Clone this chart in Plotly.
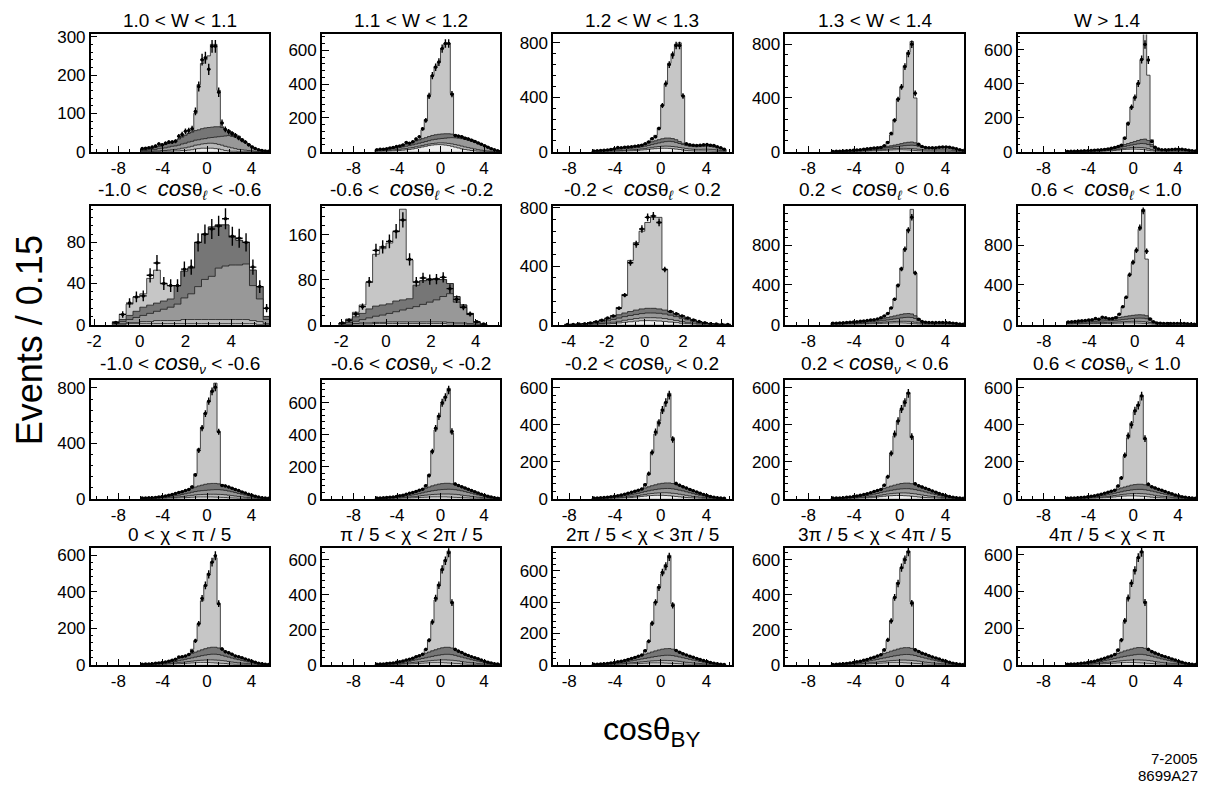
import numpy as np
import plotly.graph_objects as go

FIG_W, FIG_H = 1211, 796
BIN = 0.3  # histogram bin width in cos(theta_BY)

# ---------------------------------------------------------------------------
# Histogram contents.  *_X0 is the lower edge of the first bin of the
# background/data arrays, *_SX0 the lower edge of the first signal bin.
# B1..B4 are the stacked background components (bottom to top), SIG the
# signal component drawn on top of them, DATA the measured counts.
# ---------------------------------------------------------------------------

# ---- 1.0 < W < 1.1
W1_X0 = -6.0
W1_B1 = [0,0,0,0,0,0,1,1,1,1, 2,2,3,3,4,5,7,8,9,9, 9,9,8,7,5,3,2,1,1,0, 0,0,0,0,0,0,0,0,0]
W1_B2 = [1,1,1,1,2,2,2,2,3,4, 4,5,6,7,8,9,10,10,11,12, 13,13,13,12,12,11,10,9,7,6, 5,4,3,2,1,0,0,0,0]
W1_B3 = [2,2,3,4,4,6,6,7,8,9, 9,10,11,12,13,13,13,13,13,13, 14,15,17,20,23,27,30,30,30,28, 25,20,15,11,7,5,3,1,1]
W1_B4 = [2,3,3,4,5,6,7,9,10,11, 13,16,18,21,23,24,25,26,27,28, 27,27,27,26,23,17,13,10,7,6, 3,2,2,1,0,0,0,0,0]
W1_SX0 = -1.2
W1_SIG = [45,118,170,178,187,216,215,95,2]
W1_DATA = [8,9,10,12,15,20,18,22,25,25, 27,40,45,53,55,60,105,170,240,245, 215,275,275,155,75,58,52,47,42,36, 30,25,18,12,8,5,3,2,1]

# ---- 1.1 < W < 1.2
W2_X0 = -6.0
W2_B1 = [2,2,3,3,4,5,6,7,9,11, 13,16,20,24,28,32,36,39,41,42, 41,39,36,32,27,22,17,13,10,7, 5,3,2,1,1,0,0,0,0]
W2_B2 = [2,3,3,4,4,5,6,7,8,8, 9,9,9,9,9,9,9,9,9,10, 11,12,13,14,15,16,16,15,14,13, 11,9,7,5,3,2,1,0,0]
W2_B3 = [4,4,5,6,7,8,9,10,11,13, 14,15,16,17,18,19,20,22,23,24, 26,29,33,37,40,42,44,45,44,42, 39,36,31,26,21,16,10,6,3]
W2_B4 = [4,4,4,5,6,7,8,10,12,13, 15,17,19,20,22,23,25,26,27,27, 27,26,24,21,18,15,13,11,10,9, 8,7,6,5,3,2,1,0,0]
W2_SX0 = -1.8
W2_SIG = [53,107,245,354,405,427,505,534,534,241]
W2_DATA = [12,14,15,18,22,25,30,34,40,55, 50,58,75,88,135,185,330,450,500,530, 610,640,640,340,95,92,88,80,75,68, 60,52,44,35,26,18,12,6,3]

# ---- 1.2 < W < 1.3
W3_X0 = -6.0
W3_B1 = [1,1,1,1,2,2,3,3,4,5, 6,7,8,10,12,14,17,20,22,24, 25,25,24,22,19,16,12,9,7,6, 5,5,5,5,4,3,2,1,1]
W3_B2 = [1,1,2,2,2,3,3,4,5,5, 6,7,8,8,9,10,11,12,13,14, 15,16,16,16,16,15,15,14,13,12, 12,12,13,13,13,12,10,7,4]
W3_B3 = [2,3,3,4,5,6,8,10,11,12, 12,12,12,13,14,16,18,20,23,26, 30,33,36,36,33,29,25,22,20,19, 19,20,21,22,21,19,16,12,8]
W3_B4 = [2,2,3,4,5,6,8,10,10,10, 10,11,12,13,15,17,19,21,22,24, 25,26,24,22,20,15,10,9,8,8, 8,9,9,10,10,10,8,7,5]
W3_SX0 = -1.2
W3_SIG = [10,27,40,87,245,400,550,624,702,725,348,6]
W3_DATA = [5,7,8,10,13,16,22,30,28,32, 35,37,40,43,48,58,72,95,110,170, 340,500,640,710,780,780,410,58,50,48, 45,47,50,52,48,45,36,28,18]

# ---- 1.3 < W < 1.4
W4_X0 = -6.0
W4_B1 = [0,0,0,1,1,1,1,2,2,3, 4,5,6,7,8,10,11,12,13,14, 14,13,12,11,9,7,5,4,3,3, 3,3,3,3,2,2,1,1,0]
W4_B2 = [1,1,1,1,1,2,2,2,3,3, 4,4,5,6,7,7,8,9,10,10, 11,12,12,12,12,11,10,9,9,9, 9,10,10,10,10,8,6,4,3]
W4_B3 = [1,1,2,1,2,2,3,4,5,6, 6,7,7,8,9,10,11,12,13,15, 17,20,23,25,25,22,17,14,13,13, 14,15,16,16,15,13,10,6,4]
W4_B4 = [1,1,1,2,2,3,4,4,5,6, 7,8,9,9,9,9,10,11,13,15, 18,21,23,24,20,10,6,5,4,4, 4,5,6,6,6,5,4,3,2]
W4_SX0 = -1.8
W4_SIG = [2,9,35,81,191,336,420,574,670,748,334]
W4_DATA = [2,3,4,5,6,8,10,12,15,18, 21,24,27,30,32,45,68,136,233,390, 482,633,730,800,434,55,38,32,30,29, 30,33,35,35,33,28,21,14,9]

# ---- W > 1.4
W5_X0 = -6.0
W5_B1 = [0,0,0,0,0,1,1,1,1,2, 2,3,4,5,7,9,11,13,14,15, 15,14,13,11,8,5,3,2,1,1, 1,1,1,1,1,1,0,0,0]
W5_B2 = [0,0,1,1,1,1,1,1,2,1, 2,2,3,4,4,5,6,7,8,9, 10,11,11,11,10,7,5,4,4,4, 4,4,5,5,5,4,4,3,2]
W5_B3 = [1,1,1,1,2,1,2,3,3,4, 4,5,5,6,7,8,10,11,13,15, 18,21,24,25,24,18,10,6,5,5, 5,6,6,7,6,5,4,2,1]
W5_B4 = [1,1,1,1,1,2,2,2,2,3, 4,4,5,5,6,7,8,11,13,15, 17,20,24,27,24,12,6,3,2,2, 2,2,2,2,2,2,1,1,1]
W5_SX0 = -1.2
W5_SIG = [5,43,122,206,260,334,468,646,384,28]
W5_DATA = [1,2,2,3,4,5,6,7,8,10, 11,13,16,20,25,30,38,79,165,261, 318,401,542,631,539,60,26,16,12,11, 12,13,14,15,14,12,9,6,4]

# ---- -1.0 < cos(theta_l) < -0.6
L1_X0 = -1.2
L1_B1 = [0,0,1,1,1,1,1,1,1,1, 1,1,1,1,1,1,1,1,1,1, 1,0,0]
L1_B2 = [1,1,1,1,2,2,3,3,3,3, 4,4,4,4,4,4,4,4,4,4, 3,3,1]
L1_B3 = [0,2,3,5,6,8,9,11,13,16, 21,25,32,39,42,50,52,53,53,54, 34,22,4]
L1_B4 = [1,2,4,6,8,8,8,8,8,18, 26,25,43,44,48,42,40,27,24,21, 15,12,3]
L1_SX0 = -1.2
L1_SIG = [1,5,11,14,13,26,32,17,13]
L1_DATA = [2,10,21,27,28,48,60,40,38,38, 54,56,80,88,93,96,103,86,84,80, 56,37,16]

# ---- -0.6 < cos(theta_l) < -0.2
L2_X0 = -2.1
L2_B1 = [0,0,1,1,1,2,2,2,2,2, 2,2,2,2,2,2,1,1,1,0, 0,0]
L2_B2 = [1,1,1,2,2,2,2,3,3,3, 3,3,3,3,3,3,3,2,2,2, 1,0]
L2_B3 = [1,3,4,6,9,11,13,15,18,21, 24,27,31,35,39,45,51,37,27,16, 3,1]
L2_B4 = [1,4,8,11,16,18,18,17,19,18, 17,38,42,41,37,30,18,10,5,2, 1,0]
L2_SX0 = -2.1
L2_SIG = [0,2,8,15,47,92,100,108,123,161,69,5]
L2_DATA = [3,8,19,32,76,132,138,148,166,186, 116,76,83,80,81,84,64,45,31,19, 5,1]

# ---- -0.2 < cos(theta_l) < 0.2
L3_X0 = -4.2
L3_B1 = [0,0,0,0,1,2,3,5,8,12, 16,20,24,27,28,27,25,22,18,14, 10,7,4,2,1,1,0,0,0]
L3_B2 = [0,0,1,1,2,3,5,7,9,11, 14,16,18,19,20,21,21,20,18,15, 12,9,7,5,3,1,1,1,0]
L3_B3 = [1,1,1,3,4,7,10,14,18,22, 25,27,28,30,32,32,32,31,29,26, 22,17,12,8,5,3,2,1,1]
L3_B4 = [0,1,2,3,5,8,12,16,20,23, 25,27,30,32,32,32,30,27,23,19, 16,12,9,6,4,2,1,0,0]
L3_SX0 = -1.8
L3_SIG = [7,50,127,350,462,532,588,623,627,278]
L3_DATA = [1,2,4,7,12,20,30,45,60,113, 202,424,551,655,735,744,700,378,90,74, 60,45,32,21,13,7,4,2,1]

# ---- 0.2 < cos(theta_l) < 0.6
L4_X0 = -6.0
L4_B1 = [2,2,3,3,4,4,5,5,6,7, 8,9,10,11,12,14,15,16,17,17, 17,16,14,12,9,6,4,3,2,2, 2,2,2,2,1,1,1,0,0]
L4_B2 = [3,3,3,4,4,5,5,6,6,7, 7,8,9,10,11,12,13,14,15,16, 17,18,19,18,16,12,9,7,7,6, 6,6,6,6,6,5,3,3,2]
L4_B3 = [4,5,5,5,6,7,8,9,10,10, 12,13,14,15,17,18,20,23,26,30, 34,38,41,42,37,22,13,10,9,9, 9,10,10,9,8,6,5,3,2]
L4_B4 = [5,5,6,7,7,8,9,10,11,13, 14,15,17,19,20,22,24,27,30,33, 36,38,38,36,28,12,6,5,4,4, 4,4,4,4,4,3,2,1,1]
L4_SX0 = -1.8
L4_SIG = [10,24,43,90,172,304,466,650,848,1052,430,8]
L4_DATA = [14,15,17,19,21,24,28,30,34,38, 41,46,50,56,70,88,112,168,255,395, 560,760,950,1080,520,55,32,25,22,21, 21,22,22,21,19,15,11,7,5]

# ---- 0.6 < cos(theta_l) < 1.0
L5_X0 = -6.0
L5_B1 = [5,5,6,6,7,8,9,10,10,11, 11,12,12,13,14,15,16,17,17,17, 16,15,13,11,8,5,3,2,1,1, 1,1,1,1,1,1,0,0,0]
L5_B2 = [5,6,6,7,7,7,8,8,9,9, 10,10,11,11,12,13,14,15,16,17, 18,18,18,17,14,10,7,5,5,4, 4,4,4,4,4,3,3,2,1]
L5_B3 = [8,8,9,9,10,11,12,13,14,15, 15,16,16,17,18,19,21,23,26,28, 31,33,34,32,23,11,6,5,4,5, 5,5,6,6,5,4,3,2,1]
L5_B4 = [10,11,11,13,14,15,16,17,19,20, 21,21,21,22,23,25,27,29,30,32, 33,34,33,30,15,6,3,2,2,2, 2,2,2,2,2,2,2,1,1]
L5_SX0 = -1.8
L5_SIG = [13,38,102,186,411,526,642,860,1062,570,5]
L5_DATA = [28,30,33,36,40,42,46,50,62,55, 74,70,60,62,70,105,180,275,502,627, 749,976,1146,739,58,30,18,14,12,12, 12,12,13,13,12,10,8,5,3]

# ---- -1.0 < cos(theta_v) < -0.6
V1_X0 = -6.0
V1_B1 = [0,0,1,1,1,1,2,2,3,3, 4,5,6,7,8,10,11,12,12,12, 12,12,11,10,9,8,6,5,4,3, 2,2,1,1,1,0,0,0,0]
V1_B2 = [1,1,1,1,1,2,2,3,4,5, 6,7,9,11,13,14,16,17,18,19, 20,20,21,21,21,20,19,17,15,13, 11,8,7,5,3,3,2,1,0]
V1_B3 = [1,2,2,2,3,4,5,6,7,9, 11,13,15,17,19,22,24,26,28,29, 30,32,33,34,33,32,30,28,25,22, 19,16,12,9,7,4,2,1,1]
V1_B4 = [2,2,2,3,4,5,6,8,10,13, 16,19,21,23,26,29,33,37,40,44, 46,46,45,42,37,32,29,26,23,20, 17,14,12,9,6,4,3,2,1]
V1_SX0 = -1.5
V1_SIG = [15,96,268,417,516,592,660,725,373]
V1_DATA = [4,5,6,7,9,12,15,19,24,30, 37,44,50,58,66,85,171,349,510,615, 705,776,805,484,95,92,84,76,66,58, 48,40,32,24,17,11,7,4,2]

# ---- -0.6 < cos(theta_v) < -0.2
V2_X0 = -6.0
V2_B1 = [0,0,1,1,1,1,2,2,3,3, 4,5,6,7,8,9,10,11,11,11, 11,11,10,9,8,7,6,5,4,3, 2,2,1,1,1,0,0,0,0]
V2_B2 = [1,1,1,1,1,2,2,3,3,5, 6,7,8,10,12,13,14,15,16,17, 18,18,19,19,19,18,16,14,13,11, 9,7,6,4,3,2,1,1,0]
V2_B3 = [1,1,1,2,3,3,4,5,7,8, 9,11,13,14,16,19,21,23,25,27, 28,29,30,30,29,28,27,25,22,20, 17,14,11,8,5,4,3,1,1]
V2_B4 = [2,2,2,3,4,5,6,8,9,11, 14,16,18,21,23,25,28,31,34,36, 37,38,37,35,32,28,25,23,20,17, 15,12,10,8,6,4,2,1,1]
V2_SX0 = -1.5
V2_SIG = [19,77,220,344,429,496,544,594,317]
V2_DATA = [4,4,5,7,9,11,14,18,22,27, 33,39,45,52,59,80,145,295,440,515, 600,635,680,420,92,82,74,67,59,51, 43,35,28,21,15,10,6,3,2]

# ---- -0.2 < cos(theta_v) < 0.2
V3_X0 = -6.0
V3_B1 = [0,0,1,1,1,1,2,2,3,4, 5,6,8,10,12,14,16,17,18,18, 18,17,16,14,12,10,8,6,5,4, 3,2,1,1,0,0,0,0,0]
V3_B2 = [1,1,0,1,1,2,2,3,3,4, 5,6,6,7,8,9,10,11,12,13, 14,15,15,15,15,14,13,12,10,8, 7,6,5,3,3,2,1,1,0]
V3_B3 = [1,1,2,2,3,3,4,5,6,7, 8,9,11,12,14,15,16,18,19,21, 22,23,24,24,23,22,21,19,17,15, 12,10,8,6,4,3,2,1,1]
V3_B4 = [1,2,2,2,3,4,5,6,8,9, 11,13,15,17,18,20,22,24,26,28, 29,30,30,29,27,25,22,20,18,16, 14,11,9,7,5,3,2,1,1]
V3_SX0 = -1.5
V3_SIG = [22,66,180,275,340,387,435,485,248,3]
V3_DATA = [3,4,5,6,8,10,13,16,20,24, 29,34,40,46,52,75,135,250,360,410, 480,520,560,320,82,72,64,57,50,43, 36,29,23,17,12,8,5,3,2]

# ---- 0.2 < cos(theta_v) < 0.6
V4_X0 = -6.0
V4_B1 = [0,0,0,1,1,1,2,2,3,3, 4,5,7,9,11,13,15,16,17,17, 17,16,15,13,11,9,7,6,5,4, 3,2,1,1,0,0,0,0,0]
V4_B2 = [1,1,1,1,1,2,1,2,2,4, 5,6,6,7,8,9,10,11,12,13, 14,15,15,15,15,14,13,11,9,8, 7,6,5,3,3,2,1,1,0]
V4_B3 = [1,1,2,1,2,2,4,5,6,7, 8,9,11,12,14,15,16,18,19,21, 22,23,24,24,23,22,21,19,17,14, 12,9,7,6,4,3,2,1,1]
V4_B4 = [1,1,1,2,3,4,4,5,7,8, 10,12,14,16,17,19,21,23,25,27, 29,30,30,29,27,25,22,20,18,16, 13,11,9,6,4,3,2,1,1]
V4_SX0 = -1.5
V4_SIG = [19,58,172,267,342,398,446,491,249,4]
V4_DATA = [3,3,4,5,7,9,11,14,18,22, 27,32,38,44,50,72,118,245,350,420, 485,520,570,335,80,70,63,56,49,42, 35,28,22,16,11,8,5,3,2]

# ---- 0.6 < cos(theta_v) < 1.0
V5_X0 = -6.0
V5_B1 = [0,0,0,1,1,1,1,2,2,3, 4,5,6,8,9,11,13,14,15,15, 15,14,13,12,10,8,6,5,4,3, 2,2,1,1,0,0,0,0,0]
V5_B2 = [1,1,1,0,1,1,2,2,3,3, 4,5,6,6,8,8,9,10,11,12, 13,14,14,14,14,13,12,10,9,8, 7,5,4,3,3,2,1,1,0]
V5_B3 = [0,1,1,2,2,3,3,4,5,6, 7,8,9,11,12,14,15,17,18,20, 21,22,23,22,21,20,19,17,15,13, 11,9,7,5,3,2,2,1,1]
V5_B4 = [1,1,2,2,2,3,4,5,6,8, 9,11,13,15,17,19,21,22,24,26, 27,28,28,27,25,23,21,19,17,14, 12,10,8,6,4,3,2,1,1]
V5_SX0 = -1.5
V5_SIG = [18,57,167,262,337,394,432,482,245,5]
V5_DATA = [2,3,4,5,6,8,10,13,16,20, 24,29,34,40,46,68,112,235,340,400, 475,505,555,325,78,64,58,51,45,38, 32,26,20,15,10,7,5,3,2]

# ---- 0 < chi < pi/5
C1_X0 = -6.0
C1_B1 = [0,0,0,1,1,1,2,2,3,4, 5,6,7,8,9,10,11,12,12,12, 12,11,10,9,8,7,5,4,3,3, 2,2,1,1,1,0,0,0,0]
C1_B2 = [1,1,1,1,1,2,2,3,3,4, 5,6,7,8,9,10,11,12,13,14, 15,16,16,16,15,14,13,11,10,8, 7,6,5,4,2,2,1,1,0]
C1_B3 = [1,1,2,2,3,3,4,5,6,7, 8,10,12,14,16,18,20,22,25,27, 29,31,32,31,29,26,24,22,19,17, 15,12,10,7,6,4,3,1,1]
C1_B4 = [1,2,2,2,3,4,5,6,8,10, 12,14,16,18,21,24,27,30,32,35, 37,38,38,36,32,27,23,20,18,16, 14,12,10,8,5,3,2,1,1]
C1_SX0 = -1.5
C1_SIG = [23,61,149,268,342,407,464,489,238]
C1_DATA = [3,4,5,6,8,10,13,16,20,25, 30,42,44,48,57,74,131,225,363,434, 494,561,596,334,86,72,66,58,48,44, 38,32,26,20,14,9,6,3,2]

# ---- pi/5 < chi < 2pi/5
C2_X0 = -6.0
C2_B1 = [0,0,1,1,1,1,2,2,3,4, 5,6,7,8,9,10,11,12,12,12, 12,11,10,9,8,7,5,4,3,3, 2,2,1,1,1,0,0,0,0]
C2_B2 = [1,1,0,1,1,2,2,3,4,5, 6,7,8,9,10,11,12,13,14,15, 16,17,17,17,16,15,14,12,11,9, 8,6,5,4,2,2,1,1,0]
C2_B3 = [1,1,2,2,3,4,5,6,7,8, 9,11,13,15,17,19,21,23,26,28, 30,32,33,32,30,27,25,23,20,17, 15,13,11,8,6,4,3,1,1]
C2_B4 = [1,2,2,3,4,4,5,7,8,10, 12,14,17,20,23,26,29,32,34,37, 39,40,40,38,34,29,25,22,19,17, 15,13,10,8,6,4,2,2,1]
C2_SX0 = -1.5
C2_SIG = [24,67,160,284,368,443,500,550,264,2]
C2_DATA = [3,4,5,7,9,11,14,18,22,27, 32,38,46,52,60,88,140,245,380,455, 545,595,640,355,88,78,70,60,53,46, 40,34,27,21,15,10,6,4,2]

# ---- 2pi/5 < chi < 3pi/5
C3_X0 = -6.0
C3_B1 = [0,0,1,1,1,1,2,2,3,4, 5,6,7,8,9,10,11,12,12,12, 12,11,10,9,8,7,5,4,3,3, 2,2,1,1,1,0,0,0,0]
C3_B2 = [1,1,0,1,1,2,2,3,4,5, 6,7,8,9,10,11,12,13,14,15, 16,17,17,17,16,15,14,12,11,9, 8,6,5,4,2,2,1,1,0]
C3_B3 = [1,1,2,2,3,4,5,6,7,8, 10,12,14,16,18,20,22,24,27,29, 31,33,34,33,31,28,26,24,21,18, 16,13,11,8,6,4,3,1,1]
C3_B4 = [1,2,2,3,4,5,6,8,9,11, 13,15,18,21,24,27,30,33,36,39, 41,42,43,41,37,32,27,23,20,18, 15,13,10,8,6,4,2,2,1]
C3_SX0 = -1.5
C3_SIG = [27,75,178,311,405,480,537,596,290]
C3_DATA = [3,4,5,7,9,12,15,19,23,28, 34,40,47,54,62,90,150,265,400,495, 590,630,690,380,92,80,70,62,55,48, 41,34,27,21,15,10,6,4,2]

# ---- 3pi/5 < chi < 4pi/5
C4_X0 = -6.0
C4_B1 = [0,0,0,1,1,1,2,2,3,4, 5,6,7,8,9,10,11,12,12,12, 12,11,10,9,8,7,5,4,3,3, 2,2,1,1,1,0,0,0,0]
C4_B2 = [1,1,1,1,1,2,2,3,3,4, 5,6,7,8,9,10,11,12,13,14, 15,16,16,16,15,14,13,11,10,8, 7,6,5,4,2,2,1,1,0]
C4_B3 = [0,1,2,2,3,3,4,5,7,8, 9,11,13,15,17,19,21,23,26,28, 30,32,33,32,30,27,25,23,20,17, 15,12,10,7,6,4,3,1,1]
C4_B4 = [1,1,2,2,3,4,5,7,8,10, 12,14,16,19,22,25,28,31,33,36, 38,39,39,37,33,29,25,22,19,17, 15,13,10,8,5,3,2,1,1]
C4_SX0 = -1.5
C4_SIG = [26,69,172,296,380,455,512,552,266,2]
C4_DATA = [2,3,5,6,8,10,13,17,21,26, 31,37,43,50,58,85,142,250,385,465, 555,600,645,352,86,76,66,60,52,45, 39,33,26,20,14,9,6,3,2]

# ---- 4pi/5 < chi < pi
C5_X0 = -6.0
C5_B1 = [0,0,0,1,1,1,2,2,3,4, 5,6,7,8,9,10,11,12,12,12, 12,11,10,9,8,7,5,4,3,3, 2,2,1,1,1,0,0,0,0]
C5_B2 = [1,1,1,1,1,2,2,3,3,4, 5,6,7,8,9,10,11,12,13,14, 15,16,16,16,15,14,13,11,10,8, 7,6,5,4,2,2,1,1,0]
C5_B3 = [1,1,2,2,3,3,4,5,6,7, 8,10,12,14,16,18,20,22,24,26, 28,30,31,30,28,26,24,22,19,17, 15,12,10,7,6,4,3,1,1]
C5_B4 = [1,2,2,2,3,4,5,6,8,10, 12,14,16,18,21,24,27,30,32,34, 36,37,37,35,31,27,23,20,18,16, 14,12,10,8,5,3,2,1,1]
C5_SX0 = -1.5
C5_SIG = [23,66,159,279,364,429,486,526,255,3]
C5_DATA = [3,4,5,6,8,10,13,16,20,25, 30,36,42,48,56,80,135,240,365,445, 515,585,615,340,84,72,64,57,50,44, 38,32,26,20,14,9,6,3,2]

# Panel titles, row by row
TITLES = [
    "1.0 &lt; W &lt; 1.1", "1.1 &lt; W &lt; 1.2", "1.2 &lt; W &lt; 1.3",
    "1.3 &lt; W &lt; 1.4", "W &gt; 1.4",
]
COS = "<span style='font-size:22px'><i>cos</i></span>θ"
TITLES += [f"{a} &lt;  {COS}<sub><i>ℓ</i></sub> &lt; {b}" for a, b in
           [("-1.0", "-0.6"), ("-0.6", "-0.2"), ("-0.2", "0.2"), ("0.2", "0.6"), ("0.6", "1.0")]]
TITLES += [f"{a} &lt; {COS}<sub><i>ν</i></sub> &lt; {b}" for a, b in
           [("-1.0", "-0.6"), ("-0.6", "-0.2"), ("-0.2", "0.2"), ("0.2", "0.6"), ("0.6", "1.0")]]
TITLES += ["0 &lt; χ &lt; π / 5", "π / 5 &lt; χ &lt; 2π / 5", "2π / 5 &lt; χ &lt; 3π / 5",
           "3π / 5 &lt; χ &lt; 4π / 5", "4π / 5 &lt; χ &lt; π"]

HISTS = [
    (W1_X0, [W1_B1, W1_B2, W1_B3, W1_B4], W1_SX0, W1_SIG, W1_DATA),
    (W2_X0, [W2_B1, W2_B2, W2_B3, W2_B4], W2_SX0, W2_SIG, W2_DATA),
    (W3_X0, [W3_B1, W3_B2, W3_B3, W3_B4], W3_SX0, W3_SIG, W3_DATA),
    (W4_X0, [W4_B1, W4_B2, W4_B3, W4_B4], W4_SX0, W4_SIG, W4_DATA),
    (W5_X0, [W5_B1, W5_B2, W5_B3, W5_B4], W5_SX0, W5_SIG, W5_DATA),
    (L1_X0, [L1_B1, L1_B2, L1_B3, L1_B4], L1_SX0, L1_SIG, L1_DATA),
    (L2_X0, [L2_B1, L2_B2, L2_B3, L2_B4], L2_SX0, L2_SIG, L2_DATA),
    (L3_X0, [L3_B1, L3_B2, L3_B3, L3_B4], L3_SX0, L3_SIG, L3_DATA),
    (L4_X0, [L4_B1, L4_B2, L4_B3, L4_B4], L4_SX0, L4_SIG, L4_DATA),
    (L5_X0, [L5_B1, L5_B2, L5_B3, L5_B4], L5_SX0, L5_SIG, L5_DATA),
    (V1_X0, [V1_B1, V1_B2, V1_B3, V1_B4], V1_SX0, V1_SIG, V1_DATA),
    (V2_X0, [V2_B1, V2_B2, V2_B3, V2_B4], V2_SX0, V2_SIG, V2_DATA),
    (V3_X0, [V3_B1, V3_B2, V3_B3, V3_B4], V3_SX0, V3_SIG, V3_DATA),
    (V4_X0, [V4_B1, V4_B2, V4_B3, V4_B4], V4_SX0, V4_SIG, V4_DATA),
    (V5_X0, [V5_B1, V5_B2, V5_B3, V5_B4], V5_SX0, V5_SIG, V5_DATA),
    (C1_X0, [C1_B1, C1_B2, C1_B3, C1_B4], C1_SX0, C1_SIG, C1_DATA),
    (C2_X0, [C2_B1, C2_B2, C2_B3, C2_B4], C2_SX0, C2_SIG, C2_DATA),
    (C3_X0, [C3_B1, C3_B2, C3_B3, C3_B4], C3_SX0, C3_SIG, C3_DATA),
    (C4_X0, [C4_B1, C4_B2, C4_B3, C4_B4], C4_SX0, C4_SIG, C4_DATA),
    (C5_X0, [C5_B1, C5_B2, C5_B3, C5_B4], C5_SX0, C5_SIG, C5_DATA),
]

# Axis ranges and ticks per panel
WIDE_X = [[-10.5, 5.6], [-10.9, 5.5], [-9.4, 6.2], [-10.0, 5.6], [-10.3, 5.6]]
X_RANGES = WIDE_X + [[-2.15, 5.66], [-2.86, 5.1], [-4.8, 4.55], [-10.0, 5.6], [-10.3, 5.4]] + WIDE_X + WIDE_X
X_TICKS = [[-8, -4, 0, 4]] * 5 + [[-2, 0, 2, 4], [-2, 0, 2, 4], [-4, -2, 0, 2, 4],
                                  [-8, -4, 0, 4], [-8, -4, 0, 4]] + [[-8, -4, 0, 4]] * 10
Y_MAX = [306, 694, 862, 873, 690,
         115, 210, 810, 1190, 1190,
         855, 740, 640, 640, 640,
         641, 670, 750, 670, 640]
Y_DTICK = [100, 200, 400, 400, 200,
           40, 80, 400, 400, 400,
           400, 200, 200, 200, 200,
           200, 200, 200, 200, 200]

# Frame geometry in pixels
COL_LEFT = [87, 319, 551, 784, 1017]
FRAME_W = 179
ROW_TOP = [27, 203, 381, 552]
ROW_BOT = [147, 324, 502, 672]

FILLS = ["#eeeeee", "#b9b9b9", "#989898", "#767676"]  # background components
SIG_FILL = "#c6c6c6"
EDGE = "#1e1e1e"
FONT = "Liberation Sans, Arial, Helvetica, sans-serif"
TICK_FONT = dict(size=17, family=FONT, color="black")


def pad(vals, n, offset=0):
    out = np.zeros(n)
    v = np.asarray(vals, dtype=float)
    m = min(len(v), n - offset)
    out[offset:offset + m] = v[:m]
    return out


def step_trace(edges, level, color, ax):
    xs = np.concatenate([[edges[0]], edges[:-1], [edges[-1], edges[-1]]])
    ys = np.concatenate([[0], level, [level[-1], 0]])
    return go.Scatter(x=xs, y=ys, mode="lines", line=dict(shape="hv", color=EDGE, width=0.8),
                      fill="tozeroy", fillcolor=color, hoverinfo="skip", showlegend=False,
                      xaxis=ax[0], yaxis=ax[1])


fig = go.Figure()
layout = dict(width=FIG_W, height=FIG_H, margin=dict(l=0, r=0, t=0, b=0),
              paper_bgcolor="white", plot_bgcolor="white", showlegend=False,
              font=dict(family=FONT, color="black"))
annotations = []

for i, (x0, bgs, sx0, sig, data) in enumerate(HISTS):
    r, c = divmod(i, 5)
    n = max(len(data), *[len(b) for b in bgs])
    edges = x0 + BIN * np.arange(n + 1)
    comps = [pad(b, n) for b in bgs]
    s_off = int(round((sx0 - x0) / BIN))
    sig_full = pad(sig, n, s_off)
    cum = np.cumsum(comps, axis=0)
    total = cum[-1] + sig_full

    sfx = "" if i == 0 else str(i + 1)
    ax = ("x" + sfx, "y" + sfx)

    fig.add_trace(step_trace(edges, total, SIG_FILL, ax))
    for k in range(3, -1, -1):
        fig.add_trace(step_trace(edges, cum[k], FILLS[k], ax))

    d = pad(data, n)
    centers = edges[:-1] + BIN / 2
    keep = d > 0
    fig.add_trace(go.Scatter(
        x=centers[keep], y=d[keep], mode="markers",
        marker=dict(symbol="circle", size=3.5, color="black"),
        error_y=dict(type="data", array=np.sqrt(d[keep]), thickness=1.4, width=0, color="black"),
        error_x=dict(type="constant", value=BIN / 2, thickness=1.4, width=0, color="black"),
        hoverinfo="skip", showlegend=False, xaxis=ax[0], yaxis=ax[1]))

    left, right = COL_LEFT[c], COL_LEFT[c] + FRAME_W
    top, bot = ROW_TOP[r], ROW_BOT[r]
    xr = X_RANGES[i]
    xmaj = X_TICKS[i][1] - X_TICKS[i][0]
    layout["xaxis" + sfx] = dict(
        domain=[left / FIG_W, right / FIG_W], range=xr, anchor=ax[1],
        tickvals=X_TICKS[i], ticktext=[str(t) for t in X_TICKS[i]],
        ticks="inside", ticklen=6, tickwidth=1, tickcolor="black",
        minor=dict(ticks="inside", ticklen=3, tickcolor="black", dtick=xmaj / 4, tick0=0),
        showline=True, linecolor="black", linewidth=1.5, mirror=True,
        showgrid=False, zeroline=False, tickfont=TICK_FONT, fixedrange=True)
    yd = Y_DTICK[i]
    layout["yaxis" + sfx] = dict(
        domain=[1 - bot / FIG_H, 1 - top / FIG_H], range=[0, Y_MAX[i]], anchor=ax[0],
        tick0=0, dtick=yd, ticks="inside", ticklen=7, tickwidth=1, tickcolor="black",
        minor=dict(ticks="inside", ticklen=3, tickcolor="black", dtick=yd / 5, tick0=0),
        showline=True, linecolor="black", linewidth=1.5, mirror=True,
        showgrid=False, zeroline=False, tickfont=TICK_FONT, fixedrange=True)

    annotations.append(dict(
        text=TITLES[i], x=(left + right) / 2 / FIG_W, y=1 - (top - 1) / FIG_H,
        xref="paper", yref="paper", xanchor="center", yanchor="bottom",
        showarrow=False, font=dict(size=19, family=FONT, color="black")))

annotations += [
    dict(text="Events / 0.15", x=25 / FIG_W, y=1 - 340 / FIG_H, xref="paper", yref="paper",
         xanchor="center", yanchor="middle", textangle=-90, showarrow=False,
         font=dict(size=36, family=FONT, color="black")),
    dict(text="cosθ<sub>BY</sub>", x=650 / FIG_W, y=1 - 740 / FIG_H, xref="paper", yref="paper",
         xanchor="center", yanchor="middle", showarrow=False,
         font=dict(size=32, family=FONT, color="black")),
    dict(text="7-2005", x=1200 / FIG_W, y=1 - 768 / FIG_H, xref="paper", yref="paper",
         xanchor="right", yanchor="middle", showarrow=False,
         font=dict(size=15, family=FONT, color="black")),
    dict(text="8699A27", x=1200 / FIG_W, y=1 - 785 / FIG_H, xref="paper", yref="paper",
         xanchor="right", yanchor="middle", showarrow=False,
         font=dict(size=15, family=FONT, color="black")),
]
layout["annotations"] = annotations
fig.update_layout(**layout)
fig.write_html("out.html")
